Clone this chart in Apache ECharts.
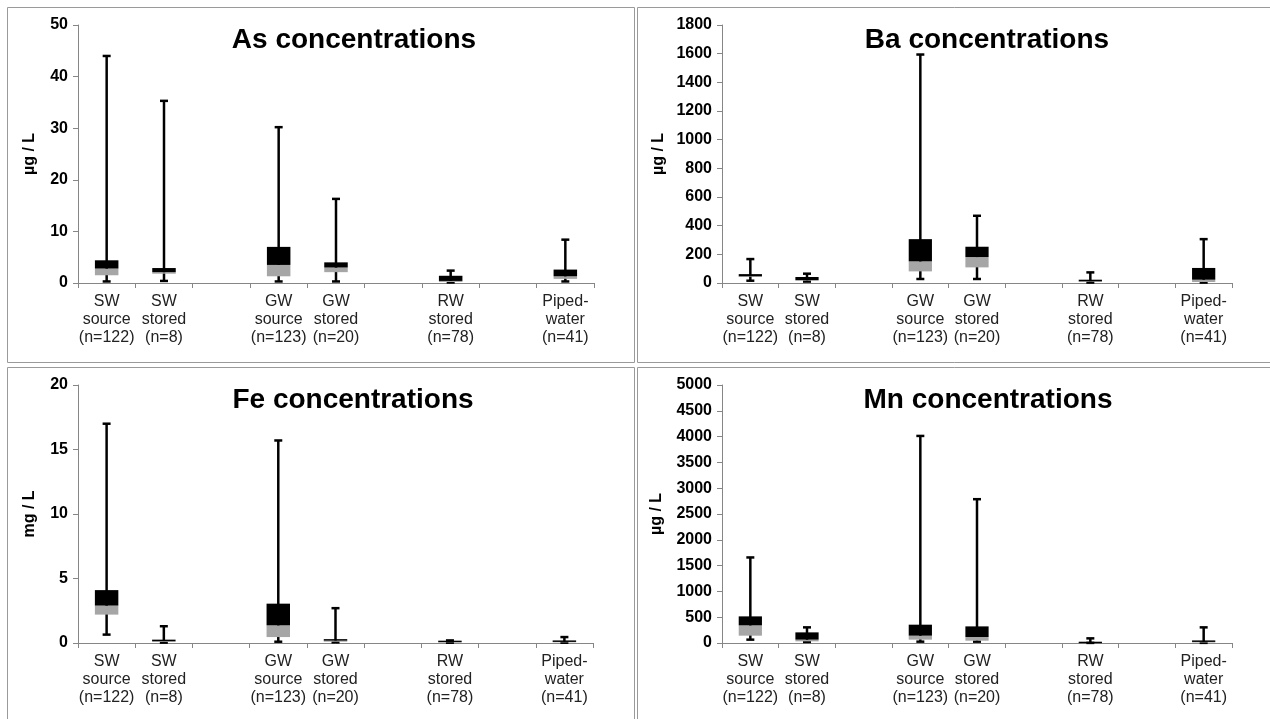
<!DOCTYPE html>
<html>
<head>
<meta charset="utf-8">
<script src="https://cdn.jsdelivr.net/npm/echarts@6/dist/echarts.min.js"></script>
<style>
html,body{margin:0;padding:0;background:#fff;}
#chart{width:1270px;height:719px;}
</style>
</head>
<body>
<div id="chart"></div>
<script>
// Categories (blank entries are gaps between groups)
const categories = ['SW\nsource\n(n=122)', 'SW\nstored\n(n=8)', '', 'GW\nsource\n(n=123)', 'GW\nstored\n(n=20)', '', 'RW\nstored\n(n=78)', '', 'Piped-\nwater\n(n=41)'];

// Each row: [min, Q1, median, Q3, max]; null = empty gap category
const asStats = [
  [0.3, 1.5, 2.8, 4.4, 44.0],
  [0.4, 1.8, 2.1, 2.9, 35.3],
  null,
  [0.3, 1.3, 3.5, 7.0, 30.2],
  [0.3, 2.1, 3.0, 4.0, 16.3],
  null,
  [0.1, 0.2, 0.4, 1.4, 2.4],
  null,
  [0.3, 0.8, 1.3, 2.6, 8.4]
];
const baStats = [
  [16, 42, 47, 62, 167],
  [10, 16, 20, 42, 65],
  null,
  [28, 81, 151, 306, 1594],
  [28, 109, 181, 253, 469],
  null,
  [3, 7, 12, 23, 74],
  null,
  [3, 7, 23, 105, 306]
];
const feStats = [
  [0.65, 2.2, 2.9, 4.1, 17.0],
  [0.03, 0.08, 0.15, 0.26, 1.3],
  null,
  [0.1, 0.46, 1.37, 3.05, 15.7],
  [0.05, 0.1, 0.2, 0.3, 2.7],
  null,
  [0.02, 0.05, 0.08, 0.18, 0.2],
  null,
  [0.02, 0.05, 0.1, 0.2, 0.46]
];
const mnStats = [
  [65, 142, 342, 516, 1658],
  [20, 32, 65, 206, 303],
  null,
  [26, 65, 142, 355, 4013],
  [26, 45, 116, 322, 2787],
  null,
  [2, 6, 12, 25, 90],
  null,
  [3, 10, 25, 50, 303]
];

const titles = ['As concentrations', 'Ba concentrations', 'Fe concentrations', 'Mn concentrations'];
const units = ['µg / L', 'µg / L', 'mg / L', 'µg / L'];
const yMax = [50, 1800, 20, 5000];
const yInterval = [10, 200, 5, 500];

const panels = [asStats, baStats, feStats, mnStats];
const grids = [
  {left: 78, top: 25, width: 516, height: 258},
  {left: 722, top: 25, width: 510, height: 258},
  {left: 78, top: 385, width: 515, height: 258},
  {left: 722, top: 385, width: 510, height: 258}
];
const nameGaps = [40, 55, 40, 57];
const titlePos = [{x: 354, y: 26}, {x: 987, y: 26}, {x: 353, y: 386}, {x: 988, y: 386}];
const FONT = 'Arial, "Liberation Sans", sans-serif';
const GRAY = '#a6a6a6';
const AXIS = '#868686';

function renderBox(params, api) {
  const idx = api.value(0);
  const pMin = api.coord([idx, api.value(1)]);
  const pQ1 = api.coord([idx, api.value(2)]);
  const pMed = api.coord([idx, api.value(3)]);
  const pQ3 = api.coord([idx, api.value(4)]);
  const pMax = api.coord([idx, api.value(5)]);
  const bw = api.size([1, 0])[0] * 0.41;
  const cw = 8;
  const x = pMed[0];
  return {
    type: 'group',
    children: [
      {type: 'line', shape: {x1: x, y1: pMin[1], x2: x, y2: pMax[1]}, style: {stroke: '#000', lineWidth: 2.5}},
      {type: 'line', shape: {x1: x - cw / 2, y1: pMin[1], x2: x + cw / 2, y2: pMin[1]}, style: {stroke: '#000', lineWidth: 2.5}},
      {type: 'line', shape: {x1: x - cw / 2, y1: pMax[1], x2: x + cw / 2, y2: pMax[1]}, style: {stroke: '#000', lineWidth: 2.5}},
      {type: 'rect', shape: {x: x - bw / 2, y: pMed[1], width: bw, height: Math.max(pQ1[1] - pMed[1], 0)}, style: {fill: GRAY}},
      {type: 'rect', shape: {x: x - bw / 2, y: pQ3[1], width: bw, height: Math.max(pMed[1] - pQ3[1], 1.5)}, style: {fill: '#000'}}
    ]
  };
}

const option = {
  animation: false,
  backgroundColor: '#fff',
  title: titles.map((t, i) => ({
    text: t, left: titlePos[i].x, top: titlePos[i].y, textAlign: 'center', padding: 0,
    textStyle: {fontFamily: FONT, fontSize: 28, fontWeight: 'bold', color: '#000'}
  })),
  grid: grids,
  xAxis: grids.map((g, i) => ({
    type: 'category', gridIndex: i, data: categories,
    axisLine: {lineStyle: {color: AXIS, width: 1}},
    axisTick: {show: true, length: 5, lineStyle: {color: AXIS}},
    axisLabel: {interval: 0, margin: 10, fontFamily: FONT, fontSize: 16, color: '#222', lineHeight: 18}
  })),
  yAxis: grids.map((g, i) => ({
    type: 'value', gridIndex: i, min: 0, max: yMax[i], interval: yInterval[i],
    name: units[i], nameLocation: 'middle', nameGap: nameGaps[i], nameRotate: 90,
    nameMoveOverlap: false,
    nameTextStyle: {fontFamily: FONT, fontSize: 16, fontWeight: 'bold', color: '#000'},
    axisLine: {show: true, lineStyle: {color: AXIS, width: 1}},
    axisTick: {show: true, length: 5, lineStyle: {color: AXIS}},
    splitLine: {show: false},
    axisLabel: {margin: 10, fontFamily: FONT, fontSize: 16, fontWeight: 'bold', color: '#000',
      formatter: v => String(v)}
  })),
  series: panels.map((stats, i) => ({
    type: 'custom', xAxisIndex: i, yAxisIndex: i,
    renderItem: renderBox,
    encode: {x: 0, y: [1, 2, 3, 4, 5]},
    data: stats.map((s, k) => s ? [k].concat(s) : null).filter(d => d)
  })),
  graphic: [
    {type: 'rect', shape: {x: 7.5, y: 7.5, width: 627, height: 355}, style: {fill: 'none', stroke: '#9a9a9a', lineWidth: 1}, z: 100},
    {type: 'rect', shape: {x: 637.5, y: 7.5, width: 640, height: 355}, style: {fill: 'none', stroke: '#9a9a9a', lineWidth: 1}, z: 100},
    {type: 'rect', shape: {x: 7.5, y: 367.5, width: 627, height: 360}, style: {fill: 'none', stroke: '#9a9a9a', lineWidth: 1}, z: 100},
    {type: 'rect', shape: {x: 637.5, y: 367.5, width: 640, height: 360}, style: {fill: 'none', stroke: '#9a9a9a', lineWidth: 1}, z: 100}
  ]
};

const chart = echarts.init(document.getElementById('chart'), null, {renderer: 'canvas'});
chart.setOption(option);
</script>
</body>
</html>
